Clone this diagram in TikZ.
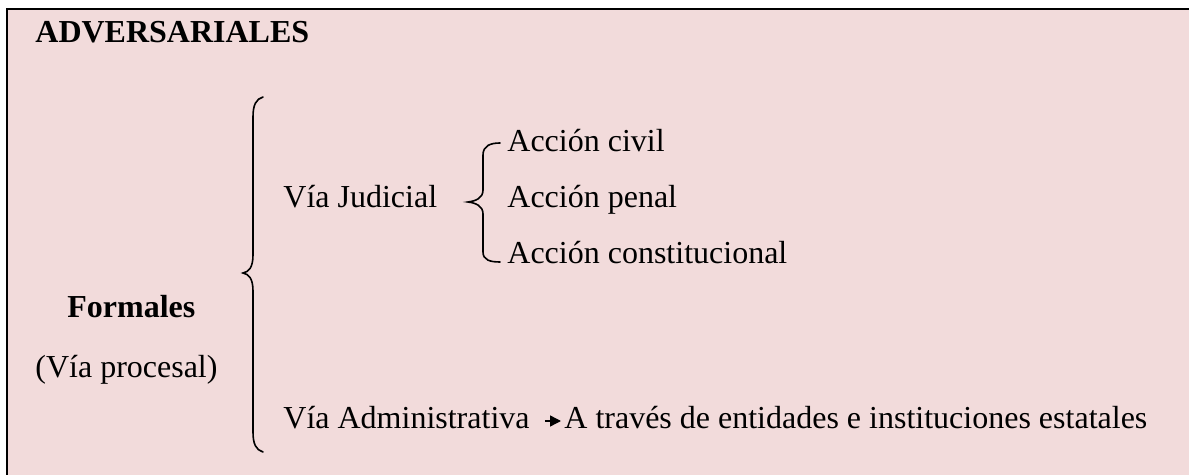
\documentclass[tikz,border=0pt]{standalone}
\usepackage{fontspec}
\setmainfont{Liberation Serif}
\usetikzlibrary{arrows.meta,calc}
\definecolor{boxfill}{HTML}{F2DBDB}
\begin{document}
\begin{tikzpicture}[x=0.5pt,y=-0.5pt,
  txt/.style={anchor=base west,inner sep=0pt,font=\fontsize{16}{19}\selectfont},
  btxt/.style={txt,font=\fontsize{16}{19}\selectfont\bfseries},
  bracestyle/.style={line width=0.8pt,line cap=round},
  arr/.style={line width=0.7pt,-{Triangle[length=5.5pt,width=5.5pt]}}]
\useasboundingbox (0,0) rectangle (1189,475);
\fill[boxfill] (7,9) rectangle (1210,500);
\draw[line width=1.2pt] (1210,9) -- (7,9) -- (7,500);
% texts
\node[btxt] (adv) at (35,43) {ADVERSARIALES};
\node[txt] (vjud) at (283,208) {Vía Judicial};
\node[txt] (civil) at (507,152) {Acción civil};
\node[txt] (penal) at (507,208) {Acción penal};
\node[txt] (const) at (507,264) {Acción constitucional};
\node[btxt] (form) at (67,318) {Formales};
\node[txt] (proc) at (35,378) {(Vía procesal)};
\node[txt] (vadm) at (283,429) {Vía Administrativa};
\node[txt] (trav) at (564,429) {A través de entidades e instituciones estatales};
% big brace
\draw[bracestyle] (263,97) .. controls (256,99) and (253,105) .. (253,117) -- (253,255)
  .. controls (253,267) and (249,272) .. (243,273)
  .. controls (249,274) and (253,279) .. (253,291) -- (253,432)
  .. controls (253,444) and (256,450) .. (263,452);
% small brace
\draw[bracestyle] (500,143) .. controls (490,143) and (483,146) .. (483,155) -- (483,190)
  .. controls (483,198) and (476,201) .. (468,202)
  .. controls (476,203) and (483,206) .. (483,214) -- (483,252)
  .. controls (483,260) and (490,262) .. (500,262);
% arrow
\draw[arr] ($(vadm.base east)+(15,-8)$) -- ($(trav.base west)+(-3,-8)$);
\end{tikzpicture}
\end{document}
